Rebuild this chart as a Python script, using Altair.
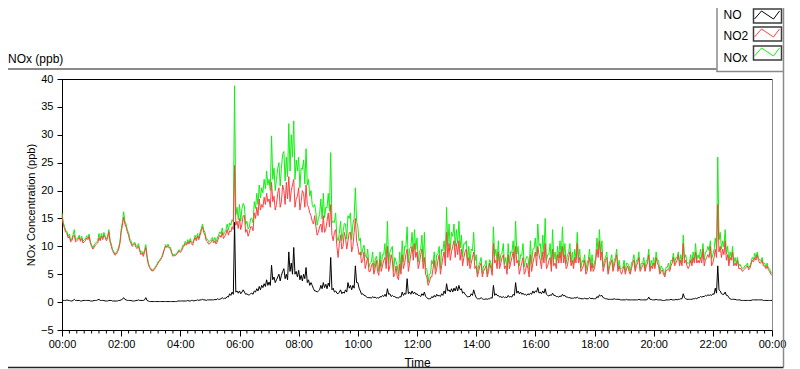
import altair as alt
import pandas as pd

# ---- data ----
# samples every 5 minutes (one row per hour) ...
no2 = [
    15.5, 13.2, 12.3, 11.8, 11.0, 12.0, 11.0, 11.6, 11.4, 10.8, 11.5, 11.8,
    10.0, 9.8, 10.4, 11.5, 11.8, 12.0, 11.0, 12.6, 10.0, 8.8, 8.6, 9.5,
    12.5, 15.2, 13.5, 12.0, 10.5, 10.2, 9.8, 10.0, 8.5, 8.2, 9.8, 6.8,
    5.8, 5.6, 6.2, 7.0, 7.6, 8.6, 10.0, 10.0, 9.5, 8.2, 8.3, 8.8,
    8.9, 9.8, 10.5, 10.8, 11.0, 10.2, 11.5, 11.8, 12.0, 13.5, 12.0, 10.8,
    10.5, 11.2, 11.0, 10.8, 12.0, 12.5, 11.8, 13.0, 12.8, 13.5, 24.5, 14.5,
    15.0, 14.0, 15.5, 13.0, 12.5, 13.5, 16.0, 17.0, 18.5, 17.5, 18.8, 19.5,
    18.5, 21.5, 19.0, 17.5, 20.5, 18.0, 20.0, 21.5, 22.5, 20.0, 22.0, 18.5,
    20.5, 18.0, 19.5, 21.0, 17.0, 15.5, 14.0, 13.5, 12.5, 14.0, 15.5, 13.0,
    16.0, 17.5, 11.0, 13.0, 8.0, 12.0, 10.0, 11.5, 11.0, 12.5, 10.0, 15.0,
    10.0, 9.0, 7.5, 6.0, 8.0, 5.5, 7.0, 6.0, 5.5, 7.5, 6.5, 8.0,
    10.0, 6.5, 7.5, 5.0, 4.5, 6.8, 8.5, 7.0, 9.5, 7.0, 10.0, 10.5,
    9.0, 7.0, 9.5, 8.0, 4.5, 3.5, 4.5, 7.5, 6.0, 8.5, 6.5, 9.0,
    12.5, 10.5, 9.0, 11.0, 10.5, 11.0, 9.5, 8.0, 9.5, 8.0, 7.0, 9.0,
    6.5, 5.5, 7.0, 5.5, 6.5, 5.5, 6.0, 10.5, 7.5, 9.0, 7.0, 8.5,
    6.5, 8.5, 7.0, 9.0, 10.0, 7.5, 6.0, 8.0, 5.5, 6.0, 8.5, 7.0,
    9.0, 10.0, 7.5, 9.0, 10.5, 6.5, 8.0, 9.5, 7.0, 8.5, 9.0, 10.0,
    8.5, 6.5, 9.0, 7.5, 8.0, 10.5, 8.0, 6.0, 7.5, 5.5, 8.0, 7.0,
    6.0, 9.5, 11.0, 9.0, 6.5, 8.0, 6.0, 7.5, 6.5, 8.5, 6.5, 5.0,
    6.5, 6.0, 5.5, 6.0, 7.5, 6.5, 8.0, 6.0, 7.0, 6.5, 8.5, 6.5,
    7.0, 8.0, 6.5, 5.5, 5.0, 5.5, 6.0, 6.5, 8.0, 7.0, 8.5, 7.5,
    10.5, 7.5, 6.0, 7.5, 8.0, 9.0, 7.5, 8.0, 9.5, 7.5, 8.5, 10.0,
    7.0, 9.5, 17.5, 10.0, 9.5, 11.0, 8.5, 8.0, 9.0, 7.0, 7.5, 6.0,
    5.5, 6.0, 6.5, 6.0, 7.5, 8.0, 8.5, 7.0, 7.5, 6.5, 6.5, 5.5,
    4.8,
]

nox = [
    16.0, 13.6, 12.7, 12.2, 11.4, 13.0, 11.4, 12.0, 11.8, 11.2, 11.9, 12.2,
    10.3, 10.2, 10.8, 12.3, 12.3, 12.5, 11.4, 13.0, 10.4, 9.1, 8.9, 9.9,
    13.0, 16.2, 14.0, 12.5, 11.0, 10.6, 10.2, 10.5, 8.9, 8.6, 10.3, 7.1,
    6.1, 5.9, 6.5, 7.3, 7.9, 8.9, 10.3, 10.4, 9.8, 8.5, 8.6, 9.1,
    9.2, 10.2, 10.9, 11.2, 11.4, 10.6, 12.0, 12.3, 12.5, 14.0, 12.5, 11.3,
    11.0, 11.6, 11.6, 11.5, 12.6, 13.3, 12.5, 14.0, 14.2, 14.8, 38.8, 17.0,
    17.5, 16.8, 17.2, 14.5, 13.5, 15.0, 18.0, 19.5, 21.0, 20.5, 22.0, 23.5,
    22.0, 29.8, 24.0, 22.0, 25.0, 24.0, 27.0, 26.0, 32.0, 30.0, 32.5, 25.5,
    26.0, 24.0, 25.5, 27.5, 22.0, 20.0, 17.0, 16.0, 15.0, 18.5, 19.5, 17.0,
    19.5, 26.8, 14.5, 16.0, 11.0, 14.5, 12.5, 14.0, 15.5, 16.0, 14.0, 20.5,
    13.5, 11.5, 9.5, 8.5, 9.5, 7.0, 9.0, 7.5, 7.2, 9.0, 8.5, 10.5,
    14.5, 9.0, 10.0, 8.0, 6.5, 9.0, 11.0, 10.0, 13.5, 9.5, 12.5, 13.0,
    11.5, 9.0, 12.0, 12.5, 6.0, 5.0, 7.5, 9.0, 8.5, 10.0, 9.5, 11.0,
    17.0, 14.0, 12.5, 14.0, 13.0, 14.5, 12.0, 10.5, 11.0, 10.0, 9.5, 12.5,
    8.5, 6.5, 8.0, 6.5, 7.5, 6.5, 7.0, 13.5, 9.5, 11.0, 8.5, 10.5,
    8.0, 10.5, 9.0, 11.0, 14.5, 10.0, 8.5, 10.5, 7.5, 8.0, 11.0, 9.5,
    11.5, 14.0, 10.5, 12.0, 15.0, 8.5, 10.5, 13.0, 9.0, 10.0, 11.0, 13.5,
    10.5, 8.5, 10.5, 9.0, 9.5, 12.5, 9.5, 7.5, 8.5, 7.0, 9.5, 8.5,
    7.0, 11.5, 13.0, 11.0, 7.5, 9.0, 7.0, 8.5, 7.5, 9.5, 7.5, 6.0,
    7.5, 7.0, 6.5, 7.0, 8.5, 7.5, 9.0, 7.0, 8.0, 7.5, 9.5, 7.5,
    8.0, 9.0, 7.5, 6.5, 5.8, 6.2, 7.0, 7.5, 8.8, 8.0, 9.0, 8.5,
    12.0, 8.5, 7.0, 8.5, 9.0, 10.5, 8.5, 9.5, 10.5, 9.0, 10.0, 11.0,
    8.5, 11.5, 26.0, 12.5, 11.0, 13.0, 10.0, 9.0, 10.0, 8.0, 8.0, 6.8,
    6.0, 6.5, 7.0, 6.5, 8.0, 8.8, 9.0, 7.5, 8.0, 7.0, 7.0, 6.0,
    5.2,
]

no = [
    0.3, 0.3, 0.4, 0.3, 0.2, 0.5, 0.3, 0.3, 0.2, 0.3, 0.3, 0.3,
    0.2, 0.3, 0.3, 0.5, 0.3, 0.3, 0.2, 0.3, 0.3, 0.2, 0.2, 0.3,
    0.4, 0.8, 0.4, 0.3, 0.3, 0.2, 0.3, 0.4, 0.3, 0.3, 0.8, 0.2,
    0.1, 0.1, 0.1, 0.1, 0.1, 0.1, 0.1, 0.1, 0.1, 0.1, 0.1, 0.2,
    0.2, 0.2, 0.2, 0.3, 0.2, 0.3, 0.3, 0.4, 0.4, 0.5, 0.4, 0.4,
    0.4, 0.4, 0.5, 0.6, 0.5, 0.8, 0.7, 1.0, 1.5, 1.8, 14.3, 2.0,
    2.0, 1.8, 1.8, 1.5, 1.3, 1.6, 2.0, 2.4, 2.8, 3.0, 3.3, 4.0,
    3.6, 6.6, 4.5, 4.0, 5.0, 4.8, 6.0, 5.0, 9.0, 7.0, 9.8, 5.5,
    5.7, 4.8, 5.0, 6.2, 4.0, 3.5, 2.4, 2.0, 2.0, 3.0, 3.5, 3.2,
    3.4, 8.0, 2.5, 2.0, 1.5, 2.2, 1.8, 2.2, 3.5, 3.0, 3.0, 6.5,
    3.5, 2.0, 1.5, 1.2, 0.8, 0.8, 1.0, 0.9, 0.8, 1.0, 1.2, 1.4,
    2.4, 1.5, 1.2, 1.0, 0.8, 1.0, 1.8, 1.6, 4.2, 1.8, 2.0, 1.8,
    1.5, 1.2, 1.5, 1.8, 0.8, 0.6, 1.0, 1.2, 1.4, 1.2, 1.5, 2.0,
    3.3, 2.2, 2.4, 2.5, 2.8, 3.0, 2.4, 1.8, 1.2, 1.0, 1.5, 2.2,
    0.8, 0.6, 0.8, 0.5, 0.6, 0.6, 0.8, 3.0, 1.5, 1.2, 1.0, 1.0,
    0.9, 1.2, 1.0, 1.4, 3.5, 2.0, 1.8, 1.6, 1.4, 1.5, 1.6, 2.0,
    2.0, 2.6, 1.8, 2.0, 2.4, 1.2, 1.3, 1.6, 1.2, 1.0, 1.1, 1.4,
    1.2, 0.9, 0.8, 0.7, 0.8, 0.9, 0.7, 0.6, 0.7, 0.6, 0.8, 0.7,
    0.6, 1.0, 1.3, 1.2, 0.7, 0.6, 0.5, 0.5, 0.6, 0.5, 0.5, 0.4,
    0.4, 0.5, 0.4, 0.4, 0.4, 0.4, 0.5, 0.4, 0.4, 0.4, 0.9, 0.5,
    0.4, 0.5, 0.4, 0.4, 0.3, 0.4, 0.4, 0.5, 0.4, 0.5, 0.5, 0.6,
    1.5, 0.6, 0.5, 0.5, 0.6, 0.7, 0.8, 1.0, 1.0, 1.2, 1.3, 1.3,
    1.5, 2.5, 6.5, 2.0, 1.4, 1.8, 1.2, 0.6, 0.5, 0.5, 0.4, 0.4,
    0.3, 0.3, 0.3, 0.3, 0.4, 0.4, 0.4, 0.4, 0.4, 0.3, 0.3, 0.3,
    0.3,
]

# ... and the dips / bumps read half-way between those samples (2.5 min later)
no2_mid = [
    14.0, 12.5, 11.5, 10.8, 11.8, 10.8, 11.2, 10.9, 10.6, 11.0, 11.2, 10.6,
    9.5, 10.2, 10.6, 11.0, 11.2, 11.6, 11.5, 10.8, 9.2, 8.4, 9.0, 10.5,
    13.8, 14.0, 12.6, 11.0, 10.0, 10.5, 9.6, 9.2, 8.8, 9.0, 8.0, 6.2,
    5.6, 5.9, 6.6, 7.3, 8.0, 9.4, 9.8, 9.7, 8.8, 8.4, 8.6, 9.2,
    9.2, 10.0, 10.2, 10.4, 10.5, 11.0, 11.0, 11.2, 12.8, 12.5, 11.0, 10.4,
    10.8, 10.6, 10.4, 11.5, 11.6, 11.4, 12.2, 12.0, 12.6, 13.0, 13.8, 13.2,
    13.0, 15.5, 12.5, 11.8, 13.5, 12.8, 15.0, 15.5, 16.5, 17.0, 17.5, 18.0,
    17.0, 18.0, 16.5, 19.5, 17.0, 21.0, 17.5, 18.5, 18.0, 21.0, 17.0, 19.0,
    16.5, 20.0, 17.0, 17.5, 16.0, 14.5, 15.5, 12.0, 13.5, 12.5, 12.5, 14.5,
    13.5, 12.0, 12.5, 10.0, 10.5, 9.5, 12.5, 9.5, 12.5, 9.0, 12.5, 11.0,
    8.5, 7.0, 9.0, 7.0, 5.5, 6.5, 5.0, 7.5, 4.8, 5.5, 7.5, 6.0,
    5.5, 8.5, 4.5, 6.5, 4.0, 5.0, 6.0, 8.5, 5.5, 8.5, 7.5, 8.0,
    6.0, 8.5, 6.0, 5.0, 3.0, 4.5, 6.0, 5.0, 7.5, 5.0, 8.0, 6.5,
    8.0, 7.5, 10.0, 8.0, 8.5, 7.5, 6.5, 9.0, 6.5, 6.0, 8.0, 6.0,
    4.5, 6.5, 4.5, 6.0, 4.5, 7.0, 4.8, 7.0, 6.0, 6.0, 8.0, 6.0,
    5.0, 6.0, 8.0, 6.5, 7.0, 5.0, 7.0, 5.0, 7.0, 4.5, 5.5, 8.0,
    6.5, 8.5, 6.0, 7.0, 6.0, 7.5, 5.5, 6.5, 6.0, 7.0, 7.0, 7.0,
    6.0, 8.0, 6.5, 6.0, 7.0, 7.0, 5.5, 6.5, 5.0, 7.0, 5.5, 5.5,
    7.5, 8.0, 7.5, 5.5, 7.5, 5.0, 7.0, 5.5, 7.5, 5.5, 5.5, 5.8,
    5.0, 6.5, 5.0, 7.0, 5.5, 7.0, 5.5, 6.5, 5.5, 7.0, 5.5, 6.0,
    6.0, 7.0, 5.0, 5.8, 4.5, 5.8, 5.5, 7.0, 6.5, 7.5, 6.5, 6.5,
    7.0, 6.5, 6.5, 6.5, 7.0, 7.0, 7.0, 7.0, 6.5, 8.0, 8.0, 6.5,
    8.0, 8.0, 9.0, 8.0, 8.5, 7.5, 6.5, 7.5, 6.5, 6.5, 6.0, 6.0,
    5.8, 6.2, 5.8, 6.8, 7.2, 7.5, 7.5, 7.0, 6.5, 6.0, 5.8, 5.0,
]

nox_mid = [
    14.3, 12.8, 11.8, 11.0, 12.1, 11.1, 11.5, 11.1, 10.9, 11.3, 11.5, 10.8,
    9.7, 10.5, 11.0, 11.3, 11.5, 11.8, 11.7, 11.1, 9.4, 8.6, 9.2, 10.8,
    14.3, 14.5, 12.9, 11.3, 10.2, 10.7, 9.9, 9.5, 9.1, 9.4, 8.3, 6.3,
    5.7, 6.0, 6.7, 7.4, 8.1, 9.5, 9.9, 9.8, 8.9, 8.5, 8.7, 9.4,
    9.4, 10.2, 10.4, 10.6, 10.8, 11.2, 11.3, 11.5, 13.2, 12.9, 11.3, 10.8,
    11.2, 11.0, 10.8, 12.0, 12.2, 12.0, 12.9, 12.9, 13.8, 14.4, 15.6, 14.8,
    14.5, 17.7, 13.9, 13.1, 15.0, 14.2, 16.8, 17.5, 18.7, 19.6, 20.3, 21.0,
    20.0, 22.0, 20.0, 24.0, 20.8, 26.5, 21.7, 22.5, 23.5, 26.0, 22.0, 23.5,
    20.5, 23.8, 21.2, 21.0, 19.0, 17.5, 17.5, 13.8, 15.7, 14.9, 15.1, 16.9,
    16.3, 14.2, 14.3, 11.6, 12.3, 11.0, 14.1, 11.3, 15.0, 11.2, 15.0, 14.5,
    11.0, 8.4, 10.2, 7.9, 6.3, 7.2, 5.8, 8.2, 5.5, 6.4, 8.5, 7.0,
    6.9, 9.5, 5.5, 7.3, 4.7, 5.9, 7.2, 9.9, 7.0, 9.9, 9.0, 9.4,
    7.2, 9.5, 7.2, 6.0, 3.6, 5.1, 6.8, 5.9, 8.6, 6.0, 9.2, 8.0,
    10.0, 9.3, 11.8, 10.0, 10.5, 9.7, 8.1, 10.4, 7.4, 7.0, 9.2, 7.4,
    5.1, 7.1, 5.1, 6.5, 5.0, 7.6, 5.5, 8.2, 7.2, 6.9, 8.8, 6.8,
    5.8, 6.9, 8.9, 7.7, 8.6, 6.5, 8.4, 6.3, 8.2, 5.8, 6.9, 9.6,
    8.3, 10.1, 7.5, 8.6, 7.4, 8.6, 6.7, 7.7, 7.0, 7.9, 8.0, 8.1,
    6.9, 8.8, 7.2, 6.7, 7.7, 7.7, 6.1, 7.1, 5.6, 7.6, 6.1, 6.1,
    8.1, 8.8, 8.6, 6.3, 8.1, 5.5, 7.5, 6.0, 8.0, 6.0, 5.9, 6.2,
    5.4, 6.9, 5.4, 7.4, 5.9, 7.4, 5.9, 6.9, 5.9, 7.5, 6.0, 6.4,
    6.4, 7.4, 5.4, 6.1, 4.8, 6.2, 5.9, 7.4, 6.9, 7.9, 7.0, 7.1,
    7.8, 7.0, 7.0, 7.0, 7.6, 7.6, 7.8, 7.9, 7.5, 9.1, 9.2, 7.7,
    9.4, 9.6, 11.2, 9.5, 9.9, 8.7, 7.3, 8.0, 7.0, 6.9, 6.4, 6.3,
    6.1, 6.5, 6.1, 7.1, 7.6, 7.9, 7.9, 7.4, 6.8, 6.3, 6.1, 5.3,
]

no_mid = [
    0.3, 0.3, 0.3, 0.2, 0.3, 0.3, 0.3, 0.2, 0.3, 0.3, 0.3, 0.2,
    0.2, 0.3, 0.4, 0.3, 0.3, 0.2, 0.2, 0.3, 0.2, 0.2, 0.2, 0.3,
    0.5, 0.5, 0.3, 0.3, 0.2, 0.2, 0.3, 0.3, 0.3, 0.4, 0.3, 0.1,
    0.1, 0.1, 0.1, 0.1, 0.1, 0.1, 0.1, 0.1, 0.1, 0.1, 0.1, 0.2,
    0.2, 0.2, 0.2, 0.2, 0.3, 0.2, 0.3, 0.3, 0.4, 0.4, 0.3, 0.4,
    0.4, 0.4, 0.4, 0.5, 0.6, 0.6, 0.7, 0.9, 1.2, 1.4, 1.8, 1.6,
    1.5, 2.2, 1.4, 1.3, 1.5, 1.4, 1.8, 2.0, 2.2, 2.6, 2.8, 3.0,
    3.0, 4.0, 3.5, 4.5, 3.8, 5.5, 4.2, 4.0, 5.5, 5.0, 5.0, 4.5,
    4.0, 3.8, 4.2, 3.5, 3.0, 3.0, 2.0, 1.8, 2.2, 2.4, 2.6, 2.4,
    2.8, 2.2, 1.8, 1.6, 1.8, 1.5, 1.6, 1.8, 2.5, 2.2, 2.5, 3.5,
    2.5, 1.4, 1.2, 0.9, 0.8, 0.7, 0.8, 0.7, 0.7, 0.9, 1.0, 1.0,
    1.4, 1.0, 1.0, 0.8, 0.7, 0.9, 1.2, 1.4, 1.5, 1.4, 1.5, 1.4,
    1.2, 1.0, 1.2, 1.0, 0.6, 0.6, 0.8, 0.9, 1.1, 1.0, 1.2, 1.5,
    2.0, 1.8, 1.8, 2.0, 2.0, 2.2, 1.6, 1.4, 0.9, 1.0, 1.2, 1.4,
    0.6, 0.6, 0.6, 0.5, 0.5, 0.6, 0.7, 1.2, 1.2, 0.9, 0.8, 0.8,
    0.8, 0.9, 0.9, 1.2, 1.6, 1.5, 1.4, 1.3, 1.2, 1.3, 1.4, 1.6,
    1.8, 1.6, 1.5, 1.6, 1.4, 1.1, 1.2, 1.2, 1.0, 0.9, 1.0, 1.1,
    0.9, 0.8, 0.7, 0.7, 0.7, 0.7, 0.6, 0.6, 0.6, 0.6, 0.6, 0.6,
    0.6, 0.8, 1.1, 0.8, 0.6, 0.5, 0.5, 0.5, 0.5, 0.5, 0.4, 0.4,
    0.4, 0.4, 0.4, 0.4, 0.4, 0.4, 0.4, 0.4, 0.4, 0.5, 0.5, 0.4,
    0.4, 0.4, 0.4, 0.3, 0.3, 0.4, 0.4, 0.4, 0.4, 0.4, 0.5, 0.6,
    0.8, 0.5, 0.5, 0.5, 0.6, 0.6, 0.8, 0.9, 1.0, 1.1, 1.2, 1.2,
    1.4, 1.6, 2.2, 1.5, 1.4, 1.2, 0.8, 0.5, 0.5, 0.4, 0.4, 0.3,
    0.3, 0.3, 0.3, 0.3, 0.4, 0.4, 0.4, 0.4, 0.3, 0.3, 0.3, 0.3,
]

y_ticks = [-5, 0, 5, 10, 15, 20, 25, 30, 35, 40]
major_hours = list(range(0, 25, 2))
series_names = ["NO", "NO2", "NOx"]
series_colors = ["#000000", "#ff4040", "#10f010"]

n = len(no2)
assert len(nox) == n and len(no) == n, (len(no2), len(nox), len(no))
assert len(no2_mid) == n - 1 and len(nox_mid) == n - 1 and len(no_mid) == n - 1, (
    len(no2_mid), len(nox_mid), len(no_mid))


def interleave(samples, mids):
    out = []
    for i, v in enumerate(samples):
        out.append(v)
        if i < len(mids):
            out.append(mids[i])
    return out


m = 2 * n - 1
times = pd.date_range("2020-01-01 00:00", periods=m, freq="150s")
df = pd.DataFrame({
    "time": times,
    "NO": interleave(no, no_mid),
    "NO2": interleave(no2, no2_mid),
    "NOx": interleave(nox, nox_mid),
})

W, H = 710, 251
FONT = "Liberation Sans"


def dt(h, mnt=0):
    return alt.DateTime(year=2020, month=1, date=1 + h // 24, hours=h % 24, minutes=mnt)


x_scale = alt.Scale(domain=[dt(0), dt(24)])
minor_ticks = pd.DataFrame({
    "time": [pd.Timestamp("2020-01-01") + pd.Timedelta(minutes=15 * k)
             for k in range(97) if k % 8 != 0]
})

x_axis = alt.Axis(
    values=[dt(h) for h in major_hours], format="%H:%M", labelFlush=False,
    tickSize=6, labelPadding=2, grid=False, domainColor="#000", tickColor="#000",
    labelFontSize=11, labelColor="#000", title="Time", titleFontSize=12,
    titleFontWeight="normal", titleColor="#000", titleX=W / 2, titleY=36,
    titleAlign="center", titleBaseline="alphabetic",
)
y_scale = alt.Scale(domain=[-5, 40], nice=False, zero=False)
y_axis = alt.Axis(
    values=y_ticks, tickSize=5, labelPadding=4, grid=False, domainColor="#000",
    tickColor="#000", labelFontSize=11, labelColor="#000",
    title="NOx Concentration (ppb)", titleFontSize=11, titleFontWeight="normal",
    titleColor="#000", titleAngle=270, titleX=-31, titleY=H / 2,
    titleAlign="center", titleBaseline="middle",
)

blank = alt.Data(values=[{}])


def line(field, color):
    return alt.Chart(df).mark_line(color=color, strokeWidth=1).encode(
        x=alt.X("time:T", scale=x_scale, axis=x_axis),
        y=alt.Y(f"{field}:Q", scale=y_scale, axis=y_axis),
    )


minor = alt.Chart(minor_ticks).mark_rule(color="#000", strokeWidth=1).encode(
    x=alt.X("time:T", scale=x_scale, axis=x_axis),
    y=alt.value(H + 0.5), y2=alt.value(H + 3.5),
)


def seg(x1, y1, x2, y2, color, sw=1.0):
    return alt.Chart(blank).mark_rule(color=color, strokeWidth=sw).encode(
        x=alt.value(x1), y=alt.value(y1), x2=alt.value(x2), y2=alt.value(y2)
    )


def label(text, x, y, size=12):
    return alt.Chart(blank).mark_text(
        text=text, align="left", baseline="alphabetic", fontSize=size,
        font=FONT, color="#000"
    ).encode(x=alt.value(x), y=alt.value(y))


GRAY = "#8a8a8a"
RIGHT = 721.5   # right edge of the drawable area (page x ~ 791)
LEG_L = RIGHT - 67
deco = [
    seg(0, 0.5, W, 0.5, "#000"),                  # plot top border
    seg(W + 0.5, 0, W + 0.5, H, GRAY),           # plot right border
    seg(-54, -10, LEG_L, -10, GRAY, 2),          # frame top line
    seg(LEG_L + 0.5, -71, LEG_L + 0.5, -7, GRAY, 1.5),   # legend box left
    seg(LEG_L, -7.5, RIGHT, -7.5, GRAY, 1.5),    # legend box bottom
    seg(RIGHT, -71, RIGHT, 288, GRAY, 1.5),      # frame right
    seg(-54, 288.5, RIGHT, 288.5, "#222", 1.5),  # frame bottom
    label("NOx (ppb)", -54, -16),
]

box_tops = [-70, -52, -33]
text_base = [-60, -39, -17]
bx0 = RIGHT - 30
for name, color, top, base in zip(series_names, series_colors, box_tops, text_base):
    bot = top + 14
    deco.append(label(name, LEG_L + 7, base))
    deco.append(
        alt.Chart(blank).mark_rect(fill="white", stroke="#3c3c3c", strokeWidth=1.5).encode(
            x=alt.value(bx0), x2=alt.value(bx0 + 28), y=alt.value(top), y2=alt.value(bot)
        )
    )
    zy_lo, zy_hi = bot - 4, top + 2
    deco.append(seg(bx0 + 1, zy_lo, bx0 + 8, zy_hi, color))
    deco.append(seg(bx0 + 8, zy_hi, bx0 + 20, zy_lo, color))
    deco.append(seg(bx0 + 20, zy_lo, bx0 + 26, zy_hi, color))

chart = alt.layer(
    minor,
    line("NOx", series_colors[2]),
    line("NO2", series_colors[1]),
    line("NO", series_colors[0]),
    *deco,
).properties(
    width=W, height=H,
    padding={"left": 54, "top": 71, "right": 20, "bottom": 39},
    autosize=alt.AutoSizeParams(type="none"),
    background="white",
).configure_view(stroke=None).configure(font=FONT)

chart.save("out.html", embed_options={"renderer": "svg", "actions": False})
